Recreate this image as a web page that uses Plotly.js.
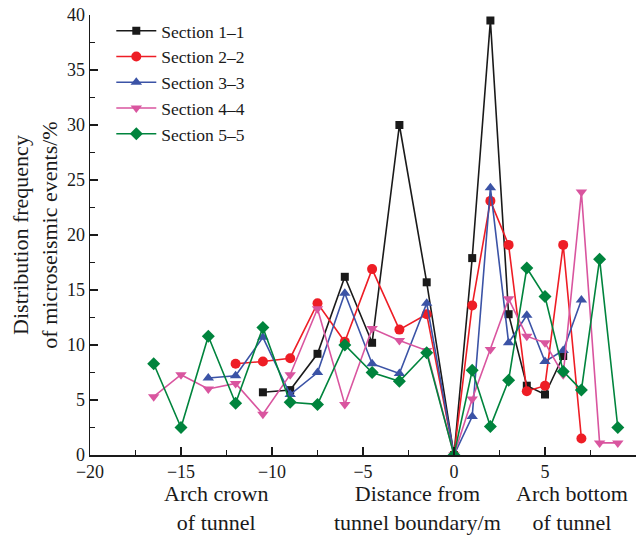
<!DOCTYPE html>
<html>
<head>
<meta charset="utf-8">
<script src="https://cdn.plot.ly/plotly-3.0.1.min.js"></script>
<style>
  html, body { margin: 0; padding: 0; background: #fff; }
  #chart { width: 644px; height: 536px; }
</style>
</head>
<body>
<div id="chart"></div>
<script>
// Distance from the tunnel boundary (m): crown side is negative, floor side positive
const x1 = [-10.5, -9, -7.5, -6, -4.5, -3, -1.5, 0, 1, 2, 3, 4, 5, 6];
const y1 = [5.7, 5.9, 9.2, 16.2, 10.2, 30.0, 15.7, 0, 17.9, 39.5, 12.8, 6.3, 5.5, 9.0];

const x2 = [-12, -10.5, -9, -7.5, -6, -4.5, -3, -1.5, 0, 1, 2, 3, 4, 5, 6, 7];
const y2 = [8.3, 8.5, 8.8, 13.8, 10.3, 16.9, 11.4, 12.8, 0, 13.6, 23.1, 19.1, 5.8, 6.3, 19.1, 1.5];

const x3 = [-13.5, -12, -10.5, -9, -7.5, -6, -4.5, -3, -1.5, 0, 1, 2, 3, 4, 5, 6, 7];
const y3 = [7.0, 7.2, 10.7, 5.5, 7.5, 14.7, 8.3, 7.4, 13.8, 0, 3.5, 24.3, 10.2, 12.7, 8.5, 9.5, 14.1];

const x4 = [-16.5, -15, -13.5, -12, -10.5, -9, -7.5, -6, -4.5, -3, -1.5, 0, 1, 2, 3, 4, 5, 6, 7, 8, 9];
const y4 = [5.3, 7.3, 6.0, 6.5, 3.7, 7.3, 13.3, 4.6, 11.5, 10.4, 9.5, 0, 5.1, 9.6, 14.2, 10.8, 10.2, 7.3, 23.9, 1.1, 1.1];

const x5 = [-16.5, -15, -13.5, -12, -10.5, -9, -7.5, -6, -4.5, -3, -1.5, 0, 1, 2, 3, 4, 5, 6, 7, 8, 9];
const y5 = [8.3, 2.5, 10.8, 4.7, 11.6, 4.8, 4.6, 10.0, 7.5, 6.7, 9.3, 0, 7.7, 2.6, 6.8, 17.0, 14.4, 7.6, 5.9, 17.8, 2.5];

const seriesNames = ['Section 1\u20131', 'Section 2\u20132', 'Section 3\u20133', 'Section 4\u20134', 'Section 5\u20135'];
const colors = ['#1a1a1a', '#ee1d25', '#3b53a6', '#d9559f', '#00843d'];
const symbols = ['square', 'circle', 'triangle-up', 'triangle-down', 'diamond'];
const sizes = [8, 10, 10, 10, 10];

const xs = [x1, x2, x3, x4, x5];
const ys = [y1, y2, y3, y4, y5];

const serif = 'Liberation Serif, Times New Roman, serif';

const traces = xs.map((xv, i) => ({
  x: xv,
  y: ys[i],
  name: seriesNames[i],
  type: 'scatter',
  mode: 'lines+markers',
  line: { color: colors[i], width: 1.6 },
  marker: { color: colors[i], symbol: symbols[i], size: sizes[i] }
}));

const axisCommon = {
  showline: true,
  linecolor: '#1a1a1a',
  linewidth: 1.5,
  ticks: 'inside',
  ticklen: 8,
  tickwidth: 1.3,
  tickcolor: '#1a1a1a',
  showgrid: false,
  zeroline: false,
  tickfont: { family: serif, size: 18, color: '#1a1a1a' },
  minor: { dtick: 2.5, ticks: 'inside', ticklen: 5, tickwidth: 1.3, tickcolor: '#1a1a1a', showgrid: false }
};

const layout = {
  width: 644,
  height: 536,
  margin: { l: 90, r: 8, t: 15, b: 81 },
  paper_bgcolor: '#ffffff',
  plot_bgcolor: '#ffffff',
  showlegend: true,
  legend: {
    x: 0.039, y: 1.005, xanchor: 'left', yanchor: 'top',
    font: { family: serif, size: 17.5, color: '#1a1a1a' },
    bgcolor: 'rgba(0,0,0,0)',
    itemwidth: 40,
    tracegroupgap: 0
  },
  xaxis: Object.assign({}, axisCommon, {
    range: [-20, 10],
    dtick: 5,
    tick0: 0
  }),
  yaxis: Object.assign({}, axisCommon, {
    range: [0, 40],
    dtick: 5,
    tick0: 0,
    title: {
      text: 'Distribution frequency<br>of microseismic events/%',
      font: { family: serif, size: 22, color: '#1a1a1a' },
      standoff: 3
    }
  }),
  annotations: [
    { text: 'Arch crown<br>of tunnel', xref: 'paper', yref: 'paper', x: 0.231, y: -0.055, xanchor: 'center', yanchor: 'top', showarrow: false, font: { family: serif, size: 22, color: '#1a1a1a' } },
    { text: 'Distance from<br>tunnel boundary/m', xref: 'paper', yref: 'paper', x: 0.599, y: -0.055, xanchor: 'center', yanchor: 'top', showarrow: false, font: { family: serif, size: 22, color: '#1a1a1a' } },
    { text: 'Arch bottom<br>of tunnel', xref: 'paper', yref: 'paper', x: 0.882, y: -0.055, xanchor: 'center', yanchor: 'top', showarrow: false, font: { family: serif, size: 22, color: '#1a1a1a' } }
  ]
};

Plotly.newPlot('chart', traces, layout, { displayModeBar: false, staticPlot: true });
</script>
</body>
</html>
